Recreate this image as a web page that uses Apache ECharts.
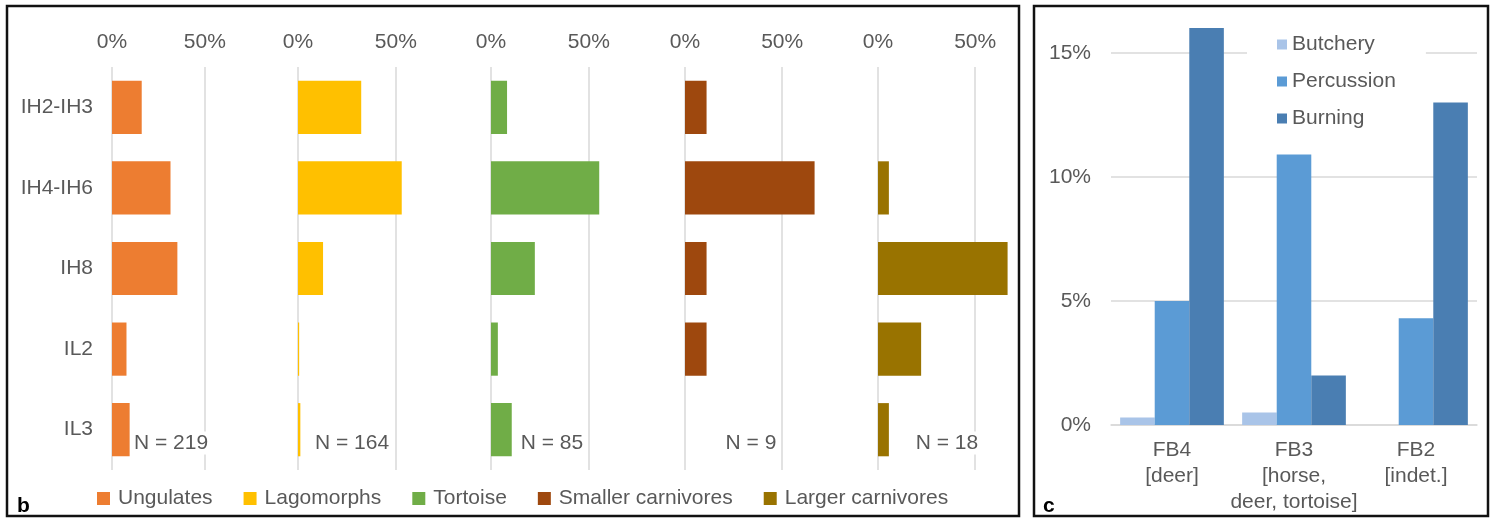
<!DOCTYPE html>
<html>
<head>
<meta charset="utf-8">
<title>Faunal composition and bone modification</title>
<script src="https://cdn.jsdelivr.net/npm/echarts@6/dist/echarts.min.js"></script>
<style>
  html, body { margin: 0; padding: 0; background: #fff; }
  #chart { width: 1497px; height: 519px; }
</style>
</head>
<body>
<div id="chart"></div>
<script>
// ---- panel b: share of each taxon by level (%) ----
const levels = ['IH2-IH3', 'IH4-IH6', 'IH8', 'IL2', 'IL3']
const taxa = ['Ungulates', 'Lagomorphs', 'Tortoise', 'Smaller carnivores', 'Larger carnivores']
const ungulates = [16.0, 31.5, 35.2, 7.8, 9.5]
const lagomorphs = [32.3, 53.0, 12.8, 0.6, 1.2]
const tortoise = [8.2, 55.3, 22.4, 3.5, 10.6]
const smallerCarnivores = [11.1, 66.7, 11.1, 11.1, 0]
const largerCarnivores = [0, 5.6, 66.7, 22.2, 5.6]
const sampleSizes = [219, 164, 85, 9, 18]
const taxaTicks = [0, 50]

// ---- panel c: modification types per assemblage (%) ----
const assemblages = ['FB4\n[deer]', 'FB3\n[horse,\ndeer, tortoise]', 'FB2\n[indet.]']
const modTypes = ['Butchery', 'Percussion', 'Burning']
const butchery = [0.3, 0.5, 0]
const percussion = [5.0, 10.9, 4.3]
const burning = [16.0, 2.0, 13.0]
const modTicks = [0, 5, 10, 15]

const taxaValues = [ungulates, lagomorphs, tortoise, smallerCarnivores, largerCarnivores]
const taxaColors = ['#ED7D31', '#FFC000', '#70AD47', '#9E480E', '#997300']
const modValues = [butchery, percussion, burning]
const modColors = ['#A9C4E8', '#5B9BD5', '#4A7EB2']

const FONT = '"Liberation Sans", Arial, sans-serif'
const TXT = '#595959'
const GRID_LINE = '#D9D9D9'

// sub-plot placement of panel b (left edge of 0% line, width of 0..70%)
const subLeft = [112, 298, 491, 685, 878]
const subWidth = [130, 137, 137, 136, 136]
const nLabelX = [171, 352, 552, 751, 947]

const chart = echarts.init(document.getElementById('chart'))

const grids = []
const xAxes = []
const yAxes = []
const series = []

taxa.forEach((name, i) => {                       // one small horizontal bar chart per taxon
  grids.push({ left: subLeft[i], top: 67, width: subWidth[i], height: 403 })
  xAxes.push({
    type: 'value', gridIndex: i, position: 'top',
    min: 0, max: 70, interval: 50,
    axisLine: { show: false },
    axisTick: { show: false, customValues: taxaTicks },
    axisLabel: { customValues: taxaTicks, formatter: '{value}%', fontSize: 21, color: TXT, fontFamily: FONT, margin: 14 },
    splitLine: { lineStyle: { color: GRID_LINE, width: 1.5 } }
  })
  yAxes.push({
    type: 'category', gridIndex: i, data: levels, inverse: true,
    axisLine: { show: false },
    axisTick: { show: false },
    axisLabel: { show: i === 0, fontSize: 21, color: TXT, fontFamily: FONT, margin: 19 }
  })
  series.push({
    name, type: 'bar', xAxisIndex: i, yAxisIndex: i,
    data: taxaValues[i],
    barCategoryGap: '34%',
    itemStyle: { color: taxaColors[i] }
  })
})

// panel c: grouped columns
grids.push({ left: 1111, top: 28, width: 366, height: 397 })
xAxes.push({
  type: 'category', gridIndex: 5, data: assemblages,
  axisLine: { lineStyle: { color: GRID_LINE, width: 1.5 } },
  axisTick: { show: false },
  axisLabel: { interval: 0, fontSize: 21, color: TXT, fontFamily: FONT, lineHeight: 26, margin: 12 }
})
yAxes.push({
  type: 'value', gridIndex: 5, min: 0, max: 16, interval: 5,
  axisLine: { show: false },
  axisTick: { show: false, customValues: modTicks },
  axisLabel: { customValues: modTicks, formatter: '{value}%', fontSize: 21, color: TXT, fontFamily: FONT, margin: 20 },
  splitLine: { lineStyle: { color: GRID_LINE, width: 1.5 } }
})
modTypes.forEach((name, i) => {
  series.push({
    name, type: 'bar', xAxisIndex: 5, yAxisIndex: 5,
    data: modValues[i],
    barGap: '0%', barCategoryGap: '15%',
    itemStyle: { color: modColors[i] }
  })
})

// "N = ..." notes, with white box so they cut the grid lines like the original
const nLabels = sampleSizes.map((n, i) => ({
  type: 'text', x: nLabelX[i], y: 443, z: 50,
  style: {
    text: 'N = ' + n, fill: TXT, font: '21px ' + FONT,
    align: 'center', verticalAlign: 'middle',
    backgroundColor: '#fff', padding: [1, 2]
  }
}))

chart.setOption({
  animation: false,
  textStyle: { fontFamily: FONT },
  grid: grids,
  xAxis: xAxes,
  yAxis: yAxes,
  series,
  legend: [
    {
      data: taxa, left: 92, top: 483, orient: 'horizontal',
      icon: 'rect', itemWidth: 13, itemHeight: 13, itemGap: 31,
      textStyle: { fontSize: 21, color: TXT, fontFamily: FONT, padding: [0, 0, 0, 3] }
    },
    {
      data: modTypes, left: 1247, top: 29, orient: 'vertical',
      icon: 'rect', itemWidth: 10, itemHeight: 10, itemGap: 16,
      backgroundColor: '#fff', padding: [5, 30, 5, 30],
      textStyle: { fontSize: 21, color: TXT, fontFamily: FONT }
    }
  ],
  graphic: [
    // panel frames
    { type: 'rect', shape: { x: 7, y: 6, width: 1012, height: 510 }, style: { fill: null, stroke: '#111', lineWidth: 2.5 }, z: 60 },
    { type: 'rect', shape: { x: 1034, y: 6, width: 454, height: 510 }, style: { fill: null, stroke: '#111', lineWidth: 2.5 }, z: 60 },
    // panel letters
    { type: 'text', x: 17, y: 506, z: 60, style: { text: 'b', fill: '#000', font: 'bold 21px ' + FONT, verticalAlign: 'middle' } },
    { type: 'text', x: 1043, y: 506, z: 60, style: { text: 'c', fill: '#000', font: 'bold 21px ' + FONT, verticalAlign: 'middle' } },
    ...nLabels
  ]
})
</script>
</body>
</html>
